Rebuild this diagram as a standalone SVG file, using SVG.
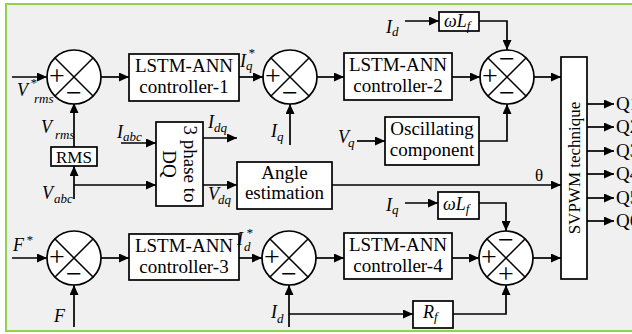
<svg xmlns="http://www.w3.org/2000/svg" width="632" height="334" viewBox="0 0 632 334">
<style>
text{font-family:"Liberation Serif","Times New Roman",serif;fill:#000}
.bx{fill:#fff;stroke:#000;stroke-width:1.7}
.ar{fill:none;stroke:#000;stroke-width:1.7;marker-end:url(#ah)}
.t{font-size:19px}
.sg{font-size:28px;text-anchor:middle}
.lb{font-style:italic;font-size:18px}
.sb{font-style:italic;font-size:13px}
.mid{text-anchor:middle}
</style>
<defs>
<marker id="ah" markerUnits="userSpaceOnUse" markerWidth="11" markerHeight="9" refX="10" refY="4.5" orient="auto">
<path d="M0,0 L10,4.5 L0,9 z" fill="#000"/>
</marker>
<g id="sumj"><circle cx="0" cy="0" r="27" fill="#fff" stroke="#000" stroke-width="1.7"/><path d="M-19,-19 L19,19 M-19,19 L19,-19" stroke="#000" stroke-width="1.5"/></g>
</defs>
<rect x="6" y="4" width="640" height="327" fill="#f0f0f0" stroke="#92d050" stroke-width="2"/>

<g id="connectors">
<line class="ar" x1="12" y1="77" x2="47" y2="77"/>
<line class="ar" x1="101" y1="77" x2="129" y2="77"/>
<line class="ar" x1="239" y1="77" x2="263" y2="77"/>
<line class="ar" x1="290" y1="145" x2="290" y2="104"/>
<line class="ar" x1="317" y1="77" x2="344" y2="77"/>
<line class="ar" x1="452" y1="77" x2="480" y2="77"/>
<line class="ar" x1="405" y1="21" x2="439" y2="21"/>
<polyline class="ar" points="479,21 507,21 507,50"/>
<line class="ar" x1="357" y1="141" x2="385" y2="141"/>
<polyline class="ar" points="479,141 507,141 507,104"/>
<line class="ar" x1="534" y1="77" x2="561" y2="77"/>
<line class="ar" x1="74" y1="147" x2="74" y2="103"/>
<line class="ar" x1="74" y1="199" x2="74" y2="166"/>
<line class="ar" x1="74" y1="185" x2="156" y2="185"/>
<line class="ar" x1="121" y1="143" x2="156" y2="143"/>
<line class="ar" x1="203" y1="138" x2="237" y2="138"/>
<line class="ar" x1="203" y1="185" x2="237" y2="185"/>
<line class="ar" x1="332" y1="185" x2="561" y2="185"/>
<line class="ar" x1="587" y1="104" x2="614" y2="104"/>
<line class="ar" x1="587" y1="127" x2="614" y2="127"/>
<line class="ar" x1="587" y1="151" x2="614" y2="151"/>
<line class="ar" x1="587" y1="174" x2="614" y2="174"/>
<line class="ar" x1="587" y1="198" x2="614" y2="198"/>
<line class="ar" x1="587" y1="221" x2="614" y2="221"/>
<line class="ar" x1="12" y1="258" x2="47" y2="258"/>
<line class="ar" x1="74" y1="327" x2="74" y2="285"/>
<line class="ar" x1="101" y1="258" x2="129" y2="258"/>
<line class="ar" x1="239" y1="258" x2="262" y2="258"/>
<line class="ar" x1="289" y1="327" x2="289" y2="285"/>
<line class="ar" x1="289" y1="314" x2="413" y2="314"/>
<polyline class="ar" points="453,314 506,314 506,285"/>
<line class="ar" x1="316" y1="258" x2="344" y2="258"/>
<line class="ar" x1="452" y1="258" x2="479" y2="258"/>
<line class="ar" x1="405" y1="203" x2="438" y2="203"/>
<polyline class="ar" points="479,203 506,203 506,231"/>
<line class="ar" x1="533" y1="258" x2="561" y2="258"/>
</g>

<g id="sum1">
<use href="#sumj" x="74" y="77"/>
<text class="sg" x="57" y="85">+</text><text class="sg" x="74" y="102">−</text>
</g>
<g id="sum2">
<use href="#sumj" x="290" y="77"/>
<text class="sg" x="273" y="85">+</text><text class="sg" x="290" y="102">−</text>
</g>
<g id="sum3">
<use href="#sumj" x="507" y="77"/>
<text class="sg" x="490" y="85">+</text><text class="sg" x="507" y="68">−</text><text class="sg" x="507" y="102">−</text>
</g>
<g id="sum4">
<use href="#sumj" x="74" y="258"/>
<text class="sg" x="57" y="266">+</text><text class="sg" x="74" y="283">−</text>
</g>
<g id="sum5">
<use href="#sumj" x="289" y="258"/>
<text class="sg" x="272" y="266">+</text><text class="sg" x="289" y="283">−</text>
</g>
<g id="sum6">
<use href="#sumj" x="506" y="258"/>
<text class="sg" x="489" y="266">+</text><text class="sg" x="506" y="249">−</text><text class="sg" x="506" y="283">+</text>
</g>

<g id="ctrl1">
<rect class="bx" x="129" y="54" width="110" height="47"/>
<text class="t mid" x="184" y="72">LSTM-ANN</text><text class="t mid" x="184" y="93">controller-1</text>
</g>
<g id="ctrl2">
<rect class="bx" x="344" y="53" width="108" height="47"/>
<text class="t mid" x="398" y="71">LSTM-ANN</text><text class="t mid" x="398" y="92">controller-2</text>
</g>
<g id="ctrl3">
<rect class="bx" x="129" y="234" width="110" height="46"/>
<text class="t mid" x="184" y="252">LSTM-ANN</text><text class="t mid" x="184" y="273">controller-3</text>
</g>
<g id="ctrl4">
<rect class="bx" x="344" y="233" width="108" height="46"/>
<text class="t mid" x="398" y="251">LSTM-ANN</text><text class="t mid" x="398" y="272">controller-4</text>
</g>
<g id="wlf1">
<rect class="bx" x="439" y="12" width="40" height="19"/>
<text class="lb" x="444" y="27">ωL<tspan class="sb" dy="3">f</tspan></text>
</g>
<g id="wlf2">
<rect class="bx" x="438" y="192" width="41" height="27"/>
<text class="lb" x="443" y="210">ωL<tspan class="sb" dy="3">f</tspan></text>
</g>
<g id="osc">
<rect class="bx" x="385" y="117" width="94" height="48"/>
<text class="t mid" x="432" y="135">Oscillating</text><text class="t mid" x="432" y="156">component</text>
</g>
<g id="svpwm">
<rect class="bx" x="561" y="57" width="26" height="222"/>
<text class="mid" font-size="17" transform="translate(580,168) rotate(-90)">SVPWM technique</text>
</g>
<g id="rms">
<rect class="bx" x="51" y="147" width="46" height="19"/>
<text class="mid" font-size="17" x="74" y="163">RMS</text>
</g>
<g id="abc2dq">
<rect class="bx" x="156" y="122" width="47" height="84"/>
<text class="t mid" transform="translate(184,164) rotate(90)">3 phase to</text>
<text class="t mid" transform="translate(163,164) rotate(90)">DQ</text>
</g>
<g id="angle">
<rect class="bx" x="237" y="162" width="95" height="47"/>
<text class="t mid" x="284.5" y="179">Angle</text><text class="t mid" x="284.5" y="199">estimation</text>
</g>
<g id="rf">
<rect class="bx" x="413" y="301" width="40" height="27"/>
<text class="lb" x="423" y="318">R<tspan class="sb" dy="3">f</tspan></text>
</g>

<g id="labels">
<text class="lb" font-size="21" x="17" y="96">V</text><text class="sb" x="30" y="87">*</text><text class="sb" font-size="12" x="34" y="103">rms</text>
<text class="lb" font-size="20" x="41" y="133">V</text><text class="sb" font-size="12" x="55" y="139">rms</text>
<text class="lb" x="117" y="138">I</text><text class="sb" x="123" y="141">abc</text>
<text class="lb" font-size="19" x="42" y="199">V</text><text class="sb" x="54" y="203">abc</text>
<text class="lb" x="208" y="128">I</text><text class="sb" x="214" y="132">dq</text>
<text class="lb" x="208" y="200">V</text><text class="sb" x="218" y="204">dq</text>
<text class="lb" x="240" y="67">I</text><text class="sb" x="248" y="57">*</text><text class="sb" x="246" y="70">q</text>
<text class="lb" x="271" y="137">I</text><text class="sb" x="277" y="141">q</text>
<text class="lb" x="386" y="33">I</text><text class="sb" x="392" y="36">d</text>
<text class="lb" x="338" y="143">V</text><text class="sb" x="348" y="147">q</text>
<text class="lb" x="386" y="211">I</text><text class="sb" x="392" y="214">q</text>
<text font-size="17" x="535" y="181">θ</text>
<text class="lb" font-size="20" x="13" y="251">F</text><text class="sb" x="26" y="244">*</text>
<text class="lb" font-size="21" x="54" y="322">F</text>
<text class="lb" x="237" y="245">I</text><text class="sb" x="246" y="237">*</text><text class="sb" x="244" y="251">d</text>
<text class="lb" x="271" y="318">I</text><text class="sb" x="277" y="323">d</text>
</g>
<g id="outputs">
<text class="t" x="616" y="110">Q1</text>
<text class="t" x="616" y="133">Q2</text>
<text class="t" x="616" y="157">Q3</text>
<text class="t" x="616" y="180">Q4</text>
<text class="t" x="616" y="204">Q5</text>
<text class="t" x="616" y="227">Q6</text>
</g>
</svg>
